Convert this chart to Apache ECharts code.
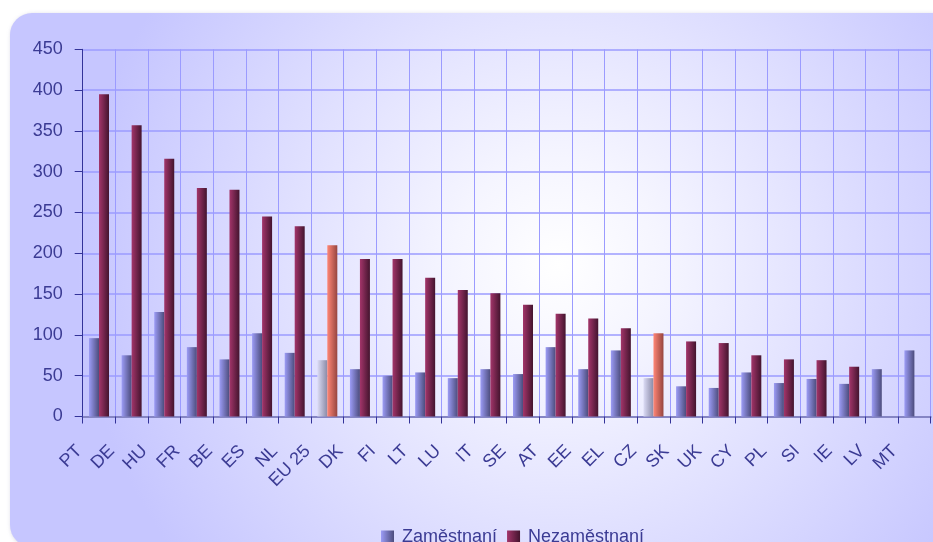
<!DOCTYPE html>
<html>
<head>
<meta charset="utf-8">
<script src="https://cdn.jsdelivr.net/npm/echarts@6/dist/echarts.min.js"></script>
<style>
html,body{margin:0;padding:0;background:#ffffff;}
#chart{width:933px;height:542px;}
</style>
</head>
<body>
<div id="chart"></div>
<script>
var categories = ['PT','DE','HU','FR','BE','ES','NL','EU 25','DK','FI','LT','LU','IT','SE','AT','EE','EL','CZ','SK','UK','CY','PL','SI','IE','LV','MT'];
var employed   = [96, 75, 128, 85, 70, 102, 78, 69, 58, 50, 54, 47, 58, 52, 85, 58, 81, 47, 37, 35, 54, 41, 46, 40, 58, 81];
var unemployed = [395, 357, 316, 280, 278, 245, 233, 210, 193, 193, 170, 155, 151, 137, 126, 120, 108, 102, 92, 90, 75, 70, 69, 61, null, null];
var highlighted = ['EU 25', 'CZ'];
var yTicks = [0, 50, 100, 150, 200, 250, 300, 350, 400, 450];
var seriesNames = ['Zaměstnaní', 'Nezaměstnaní'];

function lin(c1, c2) {
  return new echarts.graphic.LinearGradient(0, 0, 1, 0, [
    {offset: 0, color: c1}, {offset: 1, color: c2}
  ]);
}
var blueG = lin('#9c9cf6', '#4c4c7c');
var redG = lin('#a3356a', '#43142e');
var blueHi = lin('#dcdcf6', '#8a8aa6');
var redHi = lin('#ff8676', '#96453f');

function build(vals, hiColor) {
  return vals.map(function (v, i) {
    if (highlighted.indexOf(categories[i]) >= 0) {
      return {value: v, itemStyle: {color: hiColor}};
    }
    return v;
  });
}

var chart = echarts.init(document.getElementById('chart'), null, {renderer: 'canvas'});
var textColor = '#3b3b94';
var font = 'Liberation Sans, Arial, sans-serif';
var option = {
  animation: false,
  graphic: [{
    type: 'rect',
    z: -100,
    silent: true,
    shape: {x: 10, y: 13, width: 945, height: 534, r: 22},
    style: {
      fill: new echarts.graphic.RadialGradient(0.58, 0.47, 0.9, [
        {offset: 0, color: '#ffffff'},
        {offset: 0.22, color: '#f5f5ff'},
        {offset: 1, color: '#c6c6ff'}
      ]),
      shadowBlur: 4,
      shadowColor: 'rgba(120,120,160,0.35)',
      shadowOffsetX: 1,
      shadowOffsetY: 1
    }
  }],
  grid: {left: 82.7, right: 2.3, top: 49.3, bottom: 125.5, containLabel: false},
  legend: {
    left: 376,
    top: 523,
    itemWidth: 13,
    itemHeight: 13,
    itemGap: 10,
    icon: 'rect',
    textStyle: {fontFamily: font, fontSize: 18, color: textColor, padding: [0, 0, 0, 3]},
    data: seriesNames
  },
  xAxis: {
    type: 'category',
    data: categories,
    boundaryGap: true,
    axisLine: {show: true, lineStyle: {color: '#8585c4', width: 2}},
    axisTick: {show: true, interval: 0, length: 7, lineStyle: {color: '#333399', width: 1}},
    splitLine: {show: true, interval: 0, lineStyle: {color: '#9b9bff', width: 1}},
    axisLabel: {
      interval: 0,
      rotate: 45,
      margin: 12,
      padding: [0, 28, 0, 0],
      fontFamily: font,
      fontSize: 18,
      color: textColor
    }
  },
  yAxis: {
    type: 'value',
    min: 0,
    max: 450,
    interval: 50,
    axisLine: {show: true, lineStyle: {color: '#333399', width: 1}},
    axisTick: {show: true, length: 8, lineStyle: {color: '#333399', width: 1}},
    splitLine: {show: true, lineStyle: {color: '#9b9bff', width: 1.5}},
    axisLabel: {
      margin: 20,
      fontFamily: font,
      fontSize: 18,
      color: textColor,
      formatter: function (v) { return yTicks.indexOf(v) >= 0 ? String(v) : ''; }
    }
  },
  series: [{
    name: seriesNames[0],
    type: 'bar',
    barWidth: 10,
    barGap: '0%',
    itemStyle: {color: blueG},
    data: build(employed, blueHi)
  }, {
    name: seriesNames[1],
    type: 'bar',
    barWidth: 10,
    barGap: '0%',
    itemStyle: {color: redG},
    data: build(unemployed, redHi)
  }]
};
chart.setOption(option);
</script>
</body>
</html>
